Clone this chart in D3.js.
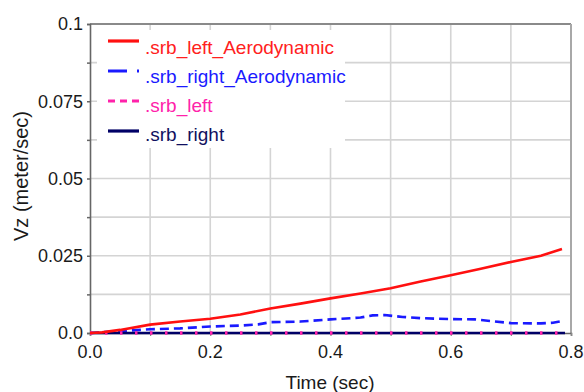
<!DOCTYPE html>
<html>
<head>
<meta charset="utf-8">
<script src="https://cdn.jsdelivr.net/npm/d3@7"></script>
<style>
  html, body { margin: 0; padding: 0; background: #fff; }
  svg { display: block; font-family: "Liberation Sans", Arial, sans-serif; }
</style>
</head>
<body>
<svg id="chart" width="584" height="392"></svg>
<script>
// Vertical velocity of the solid rocket boosters over the first 0.8 s
const seriesNames = [".srb_left_Aerodynamic", ".srb_right_Aerodynamic", ".srb_left", ".srb_right"];

const timeLeftAero = [0, 0.02, 0.05, 0.10, 0.15, 0.20, 0.25, 0.30, 0.35, 0.40, 0.45, 0.50, 0.55, 0.60, 0.65, 0.70, 0.75, 0.785];
const vzLeftAero   = [0, 0.0002, 0.0010, 0.0027, 0.0037, 0.0046, 0.0060, 0.0079, 0.0095, 0.0112, 0.0128, 0.0145, 0.0167, 0.0187, 0.0208, 0.0230, 0.0250, 0.0272];

const timeRightAero = [0, 0.05, 0.10, 0.15, 0.20, 0.25, 0.28, 0.30, 0.35, 0.40, 0.45, 0.47, 0.49, 0.52, 0.55, 0.60, 0.64, 0.67, 0.70, 0.75, 0.77, 0.785];
const vzRightAero   = [0, 0.0006, 0.0012, 0.0015, 0.0021, 0.0024, 0.0028, 0.0035, 0.0037, 0.0044, 0.0050, 0.0057, 0.0058, 0.0052, 0.0048, 0.0045, 0.0044, 0.0038, 0.0032, 0.0031, 0.0033, 0.0039];

const timeLeft  = [0, 0.2, 0.4, 0.6, 0.79];
const vzLeft    = [0, 0, 0, 0, 0];
const timeRight = [0, 0.2, 0.4, 0.6, 0.79];
const vzRight   = [0, 0, 0, 0, 0];

const xTickValues = [0, 0.2, 0.4, 0.6, 0.8];
const xTickLabels = ["0.0", "0.2", "0.4", "0.6", "0.8"];
const yTickValues = [0, 0.025, 0.05, 0.075, 0.1];
const yTickLabels = ["0.0", "0.025", "0.05", "0.075", "0.1"];
const xGridValues = [0.1, 0.2, 0.3, 0.4, 0.5, 0.6, 0.7];
const yGridValues = [0.0125, 0.025, 0.0375, 0.05, 0.0625, 0.075, 0.0875];

const svg = d3.select("#chart");
const plot = { left: 90, right: 571, top: 24, bottom: 333 };

const x = d3.scaleLinear().domain([0, 0.8]).range([plot.left, plot.right]);
const y = d3.scaleLinear().domain([0, 0.1]).range([plot.bottom, plot.top]);

// grid
const grid = svg.append("g");
grid.selectAll("line.h").data(yGridValues).join("line")
  .attr("x1", plot.left).attr("x2", plot.right)
  .attr("y1", d => y(d)).attr("y2", d => y(d))
  .attr("stroke", "#d4d4d4").attr("stroke-width", 1.6);
grid.selectAll("line.v").data(xGridValues).join("line")
  .attr("x1", d => x(d)).attr("x2", d => x(d))
  .attr("y1", plot.top).attr("y2", plot.bottom)
  .attr("stroke", "#d4d4d4").attr("stroke-width", 1.6);

// frame
svg.append("line").attr("x1", plot.left).attr("x2", plot.right).attr("y1", plot.top).attr("y2", plot.top)
  .attr("stroke", "#8a8a8a").attr("stroke-width", 2);
svg.append("line").attr("x1", plot.right).attr("x2", plot.right).attr("y1", plot.top).attr("y2", plot.bottom)
  .attr("stroke", "#a8a8a8").attr("stroke-width", 2);

// legend background hides the grid behind it
svg.append("rect").attr("x", 97).attr("y", 30).attr("width", 248).attr("height", 118).attr("fill", "#fff");

// axes
const yAxis = d3.axisLeft(y).tickValues(yGridValues.concat([0, 0.1])).tickSize(3).tickFormat("");
const yAx = svg.append("g").attr("transform", `translate(${plot.left},0)`).call(yAxis);
yAx.select(".domain").attr("stroke", "#666").attr("stroke-width", 1.6);
yAx.selectAll(".tick line").attr("stroke", "#666").attr("stroke-width", 1.5);

const xAxis = d3.axisBottom(x).tickValues(xGridValues.concat([0, 0.8])).tickSize(3).tickFormat("");
const xAx = svg.append("g").attr("transform", `translate(0,${plot.bottom})`).call(xAxis);
xAx.select(".domain").attr("stroke", "#666").attr("stroke-width", 1.6);
xAx.selectAll(".tick line").attr("stroke", "#888").attr("stroke-width", 1.2);

// tick labels
svg.append("g").selectAll("text").data(yTickValues).join("text")
  .attr("x", 83).attr("y", d => y(d)).attr("dy", "0.36em")
  .attr("text-anchor", "end").attr("font-size", 18).attr("fill", "#1a1a1a")
  .text((d, i) => yTickLabels[i]);
svg.append("g").selectAll("text").data(xTickValues).join("text")
  .attr("x", d => x(d)).attr("y", 358)
  .attr("text-anchor", "middle").attr("font-size", 18).attr("fill", "#1a1a1a")
  .text((d, i) => xTickLabels[i]);

// axis titles
svg.append("text").attr("x", 330).attr("y", 389).attr("text-anchor", "middle")
  .attr("font-size", 19).attr("fill", "#1a1a1a").text("Time (sec)");
svg.append("text").attr("transform", "translate(28,176) rotate(-90)").attr("text-anchor", "middle")
  .attr("font-size", 20).attr("fill", "#1a1a1a").text("Vz (meter/sec)");

// data lines
const line = d3.line().x(d => x(d[0])).y(d => y(d[1]));
const zip = (a, b) => a.map((t, i) => [t, b[i]]);

const series = [
  { data: zip(timeRightAero, vzRightAero), color: "#1a1aff", width: 2.6, dash: "9,5" },
  { data: zip(timeRight, vzRight), color: "#000066", width: 2.6, dash: null },
  { data: zip(timeLeft, vzLeft), color: "#ff22aa", width: 3.4, dash: "2.5,12.5" },
  { data: zip(timeLeftAero, vzLeftAero), color: "#ff1010", width: 2.6, dash: null }
];
svg.append("g").selectAll("path").data(series).join("path")
  .attr("d", d => line(d.data))
  .attr("fill", "none")
  .attr("stroke", d => d.color)
  .attr("stroke-width", d => d.width)
  .attr("stroke-dasharray", d => d.dash);

// legend
const legendItems = [
  { name: seriesNames[0], color: "#ff1010", text: "#ff2020", dash: null },
  { name: seriesNames[1], color: "#1a1aff", text: "#1a1aff", dash: "19,10" },
  { name: seriesNames[2], color: "#ff22aa", text: "#ff22aa", dash: "7,5" },
  { name: seriesNames[3], color: "#000066", text: "#101060", dash: null }
];
const lg = svg.append("g").selectAll("g").data(legendItems).join("g");
lg.append("line")
  .attr("x1", 108).attr("x2", 139)
  .attr("y1", (d, i) => 41 + i * 30).attr("y2", (d, i) => 41 + i * 30)
  .attr("stroke", d => d.color).attr("stroke-width", 3.2)
  .attr("stroke-dasharray", d => d.dash);
lg.append("text")
  .attr("x", 145).attr("y", (d, i) => 53.5 + i * 29.2)
  .attr("font-size", 19).attr("fill", d => d.text)
  .text(d => d.name);
</script>
</body>
</html>
